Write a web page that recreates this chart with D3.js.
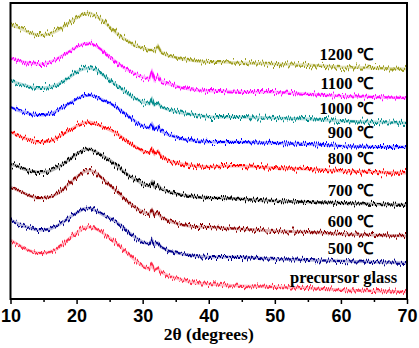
<!DOCTYPE html>
<html><head><meta charset="utf-8">
<script src="https://cdn.jsdelivr.net/npm/d3@7/dist/d3.min.js"></script>
<style>body{margin:0;background:#fff}</style>
</head><body><svg id="c" width="419" height="348"></svg>
<script>
// 2θ positions (degrees)
const twoTheta = [10,11,12,13,14,15,16,17,18,19,20,21,22,23,24,25,26,27,28,29,30,31,31.4,31.8,32.3,32.8,34,36,38,40,42,45,50,55,60,65,70];
// intensities (a.u., stacked as shown)
const s1200 = [275,273,270,267,265,265,266,269,273,278,282,286,287,284,279,273,267,262,258,254,252,250,250,249,254,248,244,241,239,238,238,237,236,235,233,232,231];
const s1100 = [242,240,238,237,236,236,238,241,245,249,253,256,257,254,249,243,238,233,229,226,223,221,228,220,224,219,216,212,210,209,209,208,208,206,204,203,202];
const s1000 = [220,217,215,213,212,212,213,215,219,223,228,231,232,230,225,220,215,210,205,201,198,196,201,195,197,193,190,187,185,183,183,183,182,181,179,178,177];
const s900  = [193,190,188,186,185,185,186,189,193,197,201,204,205,203,200,197,193,188,183,178,174,172,176,171,173,169,165,161,159,158,158,158,157,156,154,153,153];
const s800  = [168,165,162,160,158,158,159,162,166,170,174,177,178,176,173,170,167,162,157,153,149,147,151,146,149,144,139,136,134,133,134,134,132,131,129,128,127];
const s700  = [136,134,131,129,128,128,129,132,136,141,146,150,151,148,144,140,135,129,124,120,116,114,118,113,115,111,108,105,103,102,102,101,99,98,97,96,95];
const s600  = [113,110,107,104,102,102,103,106,111,117,123,128,130,127,121,115,109,103,97,92,88,86,90,85,87,83,79,75,73,73,72,71,69,68,66,65,64];
const s500  = [80,77,74,72,70,70,71,74,78,83,87,91,92,89,85,82,78,73,67,62,58,56,60,55,57,53,49,46,44,43,43,43,41,40,39,38,37];
const sGlass = [60,56,52,49,47,47,48,51,56,62,67,72,73,71,67,62,57,51,45,39,34,31,35,30,32,28,24,20,17,16,15,14,13,12,10,9,8];
const seriesLabels = ["1200 ℃","1100 ℃","1000 ℃","900 ℃","800 ℃","700 ℃","600 ℃","500 ℃","precursor glass"];
const seriesValues = [s1200,s1100,s1000,s900,s800,s700,s600,s500,sGlass];
const seriesColors = ["#9c9c1c","#ff00ff","#008b8b","#0000ff","#ff0000","#000000","#8b0000","#00008b","#ff2a48"];
const xTicks = [10,20,30,40,50,60,70];
const xMinorTicks = [15,25,35,45,55,65];

const svg = d3.select("#c");
const x = d3.scaleLinear().domain([10,70]).range([10.5,407]);
const y = d3.scaleLinear().domain([1,297]).range([299,3]);

// noise filter (visual texture of the raw patterns)
const defs = svg.append("defs");
const f = defs.append("filter").attr("id","noisy").attr("x","-5%").attr("y","-20%").attr("width","110%").attr("height","140%");
f.append("feTurbulence").attr("type","fractalNoise").attr("baseFrequency","0.9 0.02").attr("numOctaves",2).attr("seed",3).attr("result","t");
f.append("feColorMatrix").attr("in","t").attr("type","matrix")
  .attr("values","0 0 0 0 0.5  0 1 0 0 0  0 0 0 0 0  0 0 0 0 1").attr("result","m");
f.append("feDisplacementMap").attr("in","SourceGraphic").attr("in2","m").attr("scale",12)
  .attr("xChannelSelector","R").attr("yChannelSelector","G");

const line = d3.line().x((d,i)=>x(twoTheta[i])).y(d=>y(d)).curve(d3.curveLinear);

const g = svg.append("g");
seriesValues.forEach((vals,k)=>{
  g.append("path").datum(vals).attr("d",line).attr("fill","none")
    .attr("stroke",seriesColors[k]).attr("stroke-width",3).attr("stroke-opacity",0.3);
  g.append("path").datum(vals).attr("d",line).attr("fill","none")
    .attr("stroke",seriesColors[k]).attr("stroke-width",1.8).attr("filter","url(#noisy)");
});

// labels
seriesLabels.forEach((t,k)=>{
  const vals = seriesValues[k];
  const last = vals[vals.length-1];
  const isGlass = k === seriesLabels.length-1;
  svg.append("text").text(t)
    .attr("x", isGlass ? x(68.5) : x(64.8))
    .attr("y", y(last) - 9)
    .attr("text-anchor","end")
    .attr("font-family","'Liberation Serif','Times New Roman',serif")
    .attr("font-weight","bold").attr("font-size",16.5).attr("fill","#000");
});

// frame
svg.append("rect").attr("x",x(10)).attr("y",y(297)).attr("width",x(70)-x(10)).attr("height",y(1)-y(297))
  .attr("fill","none").attr("stroke","#000").attr("stroke-width",2);

// x axis
const ax = svg.append("g").attr("transform",`translate(0,${y(1)})`)
  .call(d3.axisBottom(x).tickValues(xTicks).tickSize(5).tickPadding(5).tickFormat(d3.format("d")));
ax.select(".domain").remove();
ax.selectAll("line").attr("stroke-width",1.5);
ax.selectAll("text").attr("font-family","'Liberation Sans',Arial,sans-serif").attr("font-weight","bold").attr("font-size",18).attr("fill","#000");
const axm = svg.append("g").attr("transform",`translate(0,${y(1)})`)
  .call(d3.axisBottom(x).tickValues(xMinorTicks).tickSize(3).tickFormat(""));
axm.select(".domain").remove();
axm.selectAll("line").attr("stroke-width",1.5);

svg.append("text").text("2θ (degrees)")
  .attr("x",(x(10)+x(70))/2).attr("y",340).attr("text-anchor","middle")
  .attr("font-family","'Liberation Serif','Times New Roman',serif")
  .attr("font-weight","bold").attr("font-size",17.5).attr("fill","#000");
</script></body></html>
